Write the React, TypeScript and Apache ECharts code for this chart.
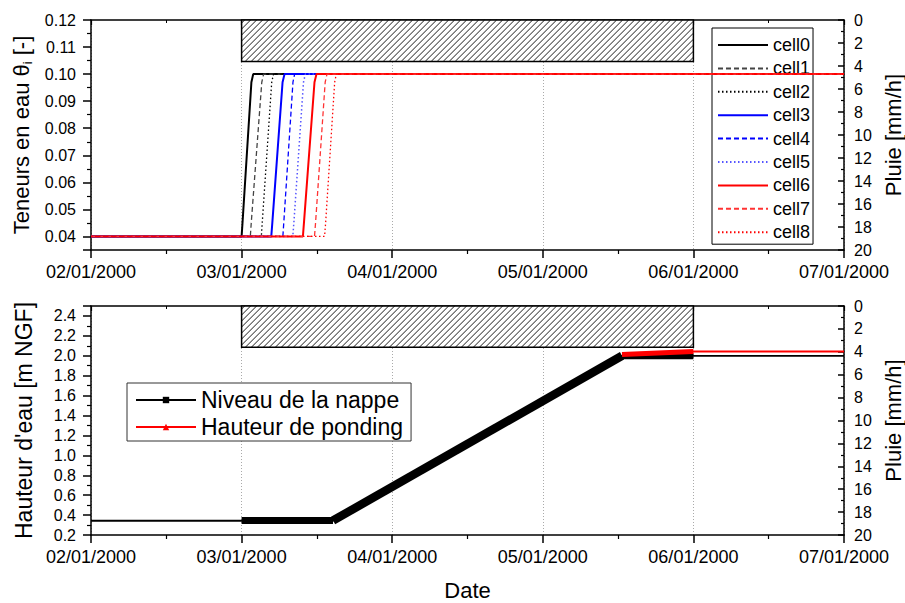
import React, { useEffect, useRef } from 'react';
import * as echarts from 'echarts';

const FONT = '"Liberation Sans", Arial, Helvetica, sans-serif';

// ---- data ----
// x values are days of January 2000 (2 = 02/01/2000)
const dateLabels = ['02/01/2000', '03/01/2000', '04/01/2000', '05/01/2000', '06/01/2000', '07/01/2000'];
const dayMin = 2;
const dayMax = 7;

const cellNames = ['cell0', 'cell1', 'cell2', 'cell3', 'cell4', 'cell5', 'cell6', 'cell7', 'cell8'];
const cell0 = [[2, 0.04], [3.0, 0.04], [3.006, 0.045], [3.065, 0.097], [3.077, 0.1], [7, 0.1]];
const cell1 = [[2, 0.04], [3.058, 0.04], [3.064, 0.045], [3.134, 0.097], [3.146, 0.1], [7, 0.1]];
const cell2 = [[2, 0.04], [3.131, 0.04], [3.137, 0.045], [3.2, 0.097], [3.212, 0.1], [7, 0.1]];
const cell3 = [[2, 0.04], [3.197, 0.04], [3.204, 0.045], [3.272, 0.097], [3.285, 0.1], [7, 0.1]];
const cell4 = [[2, 0.04], [3.274, 0.04], [3.28, 0.045], [3.341, 0.097], [3.352, 0.1], [7, 0.1]];
const cell5 = [[2, 0.04], [3.34, 0.04], [3.347, 0.045], [3.411, 0.097], [3.423, 0.1], [7, 0.1]];
const cell6 = [[2, 0.04], [3.407, 0.04], [3.414, 0.045], [3.484, 0.097], [3.497, 0.1], [7, 0.1]];
const cell7 = [[2, 0.04], [3.484, 0.04], [3.491, 0.045], [3.555, 0.097], [3.567, 0.1], [7, 0.1]];
const cell8 = [[2, 0.04], [3.551, 0.04], [3.558, 0.045], [3.618, 0.097], [3.629, 0.1], [7, 0.1]];
const cellData = [cell0, cell1, cell2, cell3, cell4, cell5, cell6, cell7, cell8];

// rain: [start day, end day, intensity mm/h]
const rain = [[3, 6, 3.6]];

// water table (Niveau de la nappe)
const nappeLine = [[2, 0.343], [3.0, 0.343], [3.607, 0.343], [5.526, 2.0], [7, 2.0]];
const nappeFlatDense = [[3.0, 0.345], [3.607, 0.345]];
const nappeRiseDense = [[3.607, 0.345], [5.526, 2.0]];
const nappePlateauDense = [[5.526, 1.995], [6.0, 1.995]];
// ponding height
const pondingLine = [[5.526, 2.012], [6.0, 2.043], [7, 2.043]];
const pondingDense = [[5.526, 2.012], [6.0, 2.043]];

const legendBottom = ['Niveau de la nappe', 'Hauteur de ponding'];

// ---- styles ----
const cellStyles = [
  { color: '#000000', width: 2, type: 'solid' },
  { color: '#444444', width: 1.3, type: [5, 3] },
  { color: '#000000', width: 1.3, type: [1.5, 2.5] },
  { color: '#0000ff', width: 2, type: 'solid' },
  { color: '#0000ff', width: 1.3, type: [5, 3] },
  { color: '#5555ff', width: 1.5, type: [1.5, 2.5] },
  { color: '#ff0000', width: 2, type: 'solid' },
  { color: '#ff3333', width: 1.3, type: [5, 3] },
  { color: '#ff0000', width: 1.3, type: [1.5, 2.5] },
];

const axisLine = { show: true, onZero: false, lineStyle: { color: '#000', width: 1.5 } };

function dateAxis(gridIndex: number, withLabels: boolean) {
  return {
    type: 'value',
    gridIndex,
    position: 'bottom',
    min: dayMin,
    max: dayMax,
    interval: 1,
    axisLine,
    axisTick: { show: true, length: 8, lineStyle: { color: '#000', width: 1.5 } },
    minorTick: { show: true, splitNumber: 2, length: 4, lineStyle: { color: '#000', width: 1.2 } },
    axisLabel: {
      show: withLabels,
      fontSize: 18,
      color: '#000',
      fontFamily: FONT,
      margin: 13,
      formatter: (v: number) => dateLabels[Math.round(v - dayMin)] || '',
    },
    splitLine: { show: true, lineStyle: { color: '#aaaaaa', width: 1, type: [1, 2] } },
  };
}

function topFrameAxis(gridIndex: number) {
  return {
    type: 'value',
    gridIndex,
    position: 'top',
    min: dayMin,
    max: dayMax,
    interval: 1,
    axisLine,
    axisTick: { show: true, inside: true, length: 5, lineStyle: { color: '#000', width: 1.2 } },
    minorTick: { show: true, splitNumber: 2, length: 3, lineStyle: { color: '#000', width: 1 } },
    axisLabel: { show: false },
    splitLine: { show: false },
  };
}

function rainAxis(gridIndex: number) {
  return {
    type: 'value',
    gridIndex,
    position: 'right',
    inverse: true,
    min: 0,
    max: 20,
    interval: 2,
    name: 'Pluie [mm/h]',
    nameLocation: 'middle',
    nameGap: 33,
    nameTextStyle: { fontSize: 22, color: '#000', fontFamily: FONT },
    axisLine,
    axisTick: { show: true, inside: true, length: 6, lineStyle: { color: '#000', width: 1.5 } },
    minorTick: { show: true, splitNumber: 2, length: 3, lineStyle: { color: '#000', width: 1.2 } },
    axisLabel: { fontSize: 16, color: '#000', fontFamily: FONT, margin: 10 },
    splitLine: { show: false },
  };
}

function rainRender(params: any, api: any) {
  const p0 = api.coord([api.value(0), 0]);
  const p1 = api.coord([api.value(1), api.value(2)]);
  const left = Math.min(p0[0], p1[0]);
  const right = Math.max(p0[0], p1[0]);
  const top = Math.min(p0[1], p1[1]);
  const bottom = Math.max(p0[1], p1[1]);
  const children: any[] = [
    { type: 'rect', shape: { x: left, y: top, width: right - left, height: bottom - top }, style: { fill: '#fff' } },
  ];
  const step = 6;
  for (let c = left + top + step / 2; c < right + bottom; c += step) {
    const xa = Math.max(left, c - bottom);
    const xb = Math.min(right, c - top);
    if (xb > xa) {
      children.push({
        type: 'line',
        shape: { x1: xa, y1: c - xa, x2: xb, y2: c - xb },
        style: { stroke: '#000', lineWidth: 0.9 },
      });
    }
  }
  children.push({
    type: 'rect',
    shape: { x: left, y: top, width: right - left, height: bottom - top },
    style: { fill: 'none', stroke: '#000', lineWidth: 1.5 },
  });
  return { type: 'group', children };
}

export default function App() {
  const ref = useRef<HTMLDivElement>(null);
  useEffect(() => {
    if (!ref.current) return;
    const chart = echarts.init(ref.current, null, { renderer: 'svg' });

    const cellSeries = cellData.map((d, i) => ({
      name: cellNames[i],
      type: 'line',
      xAxisIndex: 0,
      yAxisIndex: 0,
      data: d,
      symbol: 'none',
      showSymbol: false,
      lineStyle: { color: cellStyles[i].color, width: cellStyles[i].width, type: cellStyles[i].type as any },
      itemStyle: { color: cellStyles[i].color },
      z: 3 + i,
    }));

    const rainSeries = (xi: number, yi: number) => ({
      type: 'custom',
      name: 'rain',
      xAxisIndex: xi,
      yAxisIndex: yi,
      coordinateSystem: 'cartesian2d',
      encode: { x: [0, 1], y: 2 },
      data: rain,
      renderItem: rainRender,
      z: 1,
      silent: true,
    });

    const denseLine = (name: string, data: number[][], color: string, width: number, z: number) => ({
      name,
      type: 'line',
      xAxisIndex: 2,
      yAxisIndex: 2,
      data,
      symbol: 'none',
      lineStyle: { color, width, cap: 'butt' },
      z,
    });

    const option: any = {
      animation: false,
      backgroundColor: '#fff',
      textStyle: { fontFamily: FONT, color: '#000' },
      grid: [
        { left: 91, right: 61, top: 20, height: 230, outerBoundsMode: 'none', containLabel: false },
        { left: 91, right: 61, top: 306, height: 229, outerBoundsMode: 'none', containLabel: false },
      ],
      legend: [
        {
          data: cellNames,
          orient: 'vertical',
          left: 712,
          top: 28,
          padding: [8, 3, 3, 5],
          itemWidth: 50,
          itemHeight: 14,
          itemGap: 5.4,
          textStyle: { fontSize: 18, lineHeight: 18, color: '#000', fontFamily: FONT },
          backgroundColor: '#fff',
          borderColor: '#000',
          borderWidth: 1,
          borderRadius: 0,
          itemStyle: { opacity: 0 },
          selectedMode: false,
        },
        {
          data: legendBottom,
          orient: 'vertical',
          left: 127,
          top: 383,
          padding: [5.5, 8, 2.5, 8],
          itemWidth: 60,
          itemHeight: 8,
          itemGap: 4,
          textStyle: { fontSize: 23, lineHeight: 23, color: '#000', fontFamily: FONT },
          backgroundColor: '#fff',
          borderColor: '#333',
          borderWidth: 1,
          borderRadius: 0,
          selectedMode: false,
        },
      ],
      xAxis: [dateAxis(0, true), topFrameAxis(0), { ...dateAxis(1, true), name: 'Date', nameLocation: 'middle', nameGap: 44, nameTextStyle: { fontSize: 22, color: '#000', fontFamily: FONT } }, topFrameAxis(1)],
      yAxis: [
        {
          type: 'value',
          gridIndex: 0,
          position: 'left',
          min: 0.035,
          max: 0.12,
          splitNumber: 8,
          name: '{a|Teneurs en eau θ}{s|i}{a| [-]}',
          nameLocation: 'middle',
          nameGap: 56,
          nameTextStyle: {
            fontSize: 22,
            color: '#000',
            fontFamily: FONT,
            rich: {
              a: { fontSize: 22, color: '#000', fontFamily: FONT },
              s: { fontSize: 13, color: '#000', fontFamily: FONT, padding: [12, 0, 0, 0] },
            },
          },
          axisLine,
          axisTick: { show: true, length: 8, lineStyle: { color: '#000', width: 1.5 } },
          minorTick: { show: true, splitNumber: 2, length: 4, lineStyle: { color: '#000', width: 1.2 } },
          axisLabel: { fontSize: 16, color: '#000', fontFamily: FONT, margin: 15, showMinLabel: false, formatter: (v: number) => v.toFixed(2) },
          splitLine: { show: false },
        },
        rainAxis(0),
        {
          type: 'value',
          gridIndex: 1,
          position: 'left',
          min: 0.2,
          max: 2.5,
          interval: 0.2,
          name: "Hauteur d'eau [m NGF]",
          nameLocation: 'middle',
          nameGap: 56,
          nameTextStyle: { fontSize: 23, color: '#000', fontFamily: FONT },
          axisLine,
          axisTick: { show: true, length: 8, lineStyle: { color: '#000', width: 1.5 } },
          minorTick: { show: true, splitNumber: 2, length: 4, lineStyle: { color: '#000', width: 1.2 } },
          axisLabel: { fontSize: 16, color: '#000', fontFamily: FONT, margin: 15, showMaxLabel: false, formatter: (v: number) => v.toFixed(1) },
          splitLine: { show: false },
        },
        rainAxis(1),
      ],
      series: [
        rainSeries(0, 1),
        ...cellSeries,
        rainSeries(2, 3),
        {
          name: 'Niveau de la nappe',
          type: 'line',
          xAxisIndex: 2,
          yAxisIndex: 2,
          data: nappeLine,
          symbol: 'rect',
          symbolSize: 6,
          showSymbol: false,
          lineStyle: { color: '#000', width: 1.8 },
          itemStyle: { color: '#000' },
          z: 3,
        },
        denseLine('nappe_dense_flat', nappeFlatDense, '#000', 7, 4),
        denseLine('nappe_dense_rise', nappeRiseDense, '#000', 8.5, 4),
        denseLine('nappe_dense_plateau', nappePlateauDense, '#000', 6, 4),
        {
          name: 'Hauteur de ponding',
          type: 'line',
          xAxisIndex: 2,
          yAxisIndex: 2,
          data: pondingLine,
          symbol: 'triangle',
          symbolSize: 6,
          showSymbol: false,
          lineStyle: { color: '#ff0000', width: 1.8 },
          itemStyle: { color: '#ff0000' },
          z: 5,
        },
        denseLine('ponding_dense', pondingDense, '#ff0000', 5, 6),
      ],
    };

    chart.setOption(option);
    return () => chart.dispose();
  }, []);

  return <div ref={ref} style={{ position: 'absolute', left: 0, top: 0, width: 905, height: 603 }} />;
}
